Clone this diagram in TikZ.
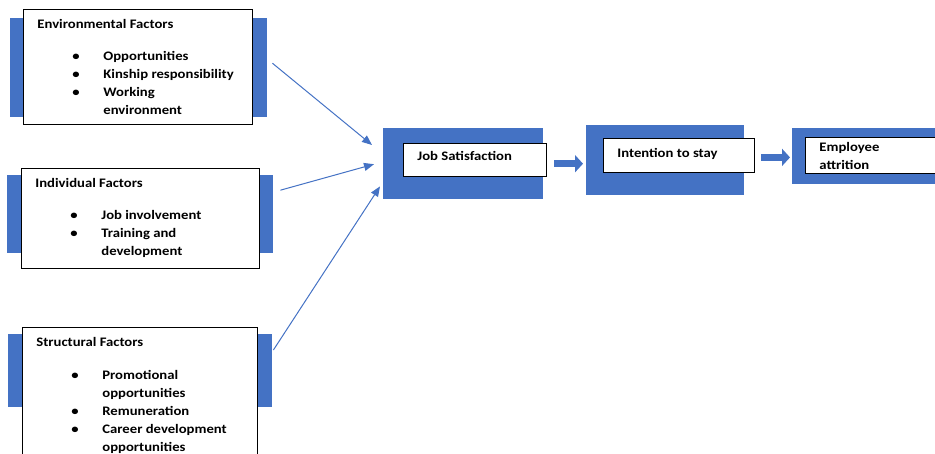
\documentclass[tikz,border=0pt]{standalone}
\usepackage{fontspec}
\setmainfont{Carlito}[FakeStretch=1.13]
\usetikzlibrary{arrows.meta,calc}
\definecolor{azul}{HTML}{4472C4}
% caixa de texto com altura fixa (largura, altura, strut da 1a linha, texto)
\newcommand{\painel}[4]{\parbox[c][#2][t]{#1}{\rule{0pt}{#3}#4}}
% item com marcador e linha de continuação
\newcommand{\marca}[1]{\hspace*{35pt}\makebox[31pt][l]{\textbullet}#1\par}
\newcommand{\segue}[1]{\hspace*{66pt}#1\par}
\tikzset{
  fundo/.style={fill=azul, draw=none, anchor=north west, inner sep=0pt},
  caixa/.style={draw=black, line width=0.8pt, fill=white, anchor=north west,
    inner xsep=14pt, inner ysep=0pt, align=left,
    font=\fontsize{13}{18}\selectfont\bfseries},
  ligacao/.style={azul, line width=1pt, -{Triangle[length=10pt,width=8pt]}},
  seta/.style={azul, line width=7pt, -{Triangle[length=8pt,width=17pt]}},
}
\begin{document}
\begin{tikzpicture}[x=1pt, y=-1pt]
    \clip (0,0) rectangle (935,454);

    % Retângulos azuis de fundo: nome/x/y/largura/altura
    \foreach \nome/\x/\y/\w/\h in {envB/10/18/257/99, indB/7/175/266/78,
        strB/8/334/264/73, jobB/383/128/160/71, intB/586/125/158/70,
        empB/792/128/160/56} {
        \node[fundo, minimum width=\w pt, minimum height=\h pt] (\nome) at (\x,\y) {};
    }

    % Fatores à esquerda
    \node[caixa] (envW) at (23,9) {\painel{201pt}{115pt}{19.5pt}{Environmental Factors\par\vspace{14pt}%
        \marca{Opportunities}\marca{Kinship responsibility}\marca{Working}\segue{environment}}};
    \node[caixa] (indW) at (21,168) {\painel{210pt}{100pt}{19.5pt}{Individual Factors\par\vspace{14pt}%
        \marca{Job involvement}\marca{Training and}\segue{development}}};
    \node[caixa] (strW) at (22,327) {\painel{207pt}{145pt}{19.5pt}{Structural Factors\par\vspace{15pt}%
        \marca{Promotional}\segue{opportunities}\marca{Remuneration}\marca{Career development}\segue{opportunities}}};

    % Etapas à direita
    \node[caixa] (jobW) at (403,143) {\painel{115pt}{33pt}{17.5pt}{Job Satisfaction}};
    \node[caixa] (intW) at (603,138) {\painel{123pt}{34pt}{19pt}{Intention to stay}};
    \node[caixa] (empW) at (805,137) {\painel{117pt}{36pt}{14pt}{Employee\par attrition}};

    % Ligações finas até Job Satisfaction
    \draw[ligacao] ($(envB.east)+(5,-4.5)$) -- ($(jobB.north west)+(-11,17)$);
    \draw[ligacao] ($(indB.east)+(7,-24)$) -- ($(jobB.west)+(-9,0.5)$);
    \draw[ligacao] ($(strB.north east)+(1,16)$) -- ($(jobB.south west)+(-3,-13)$);

    % Setas largas entre as etapas
    \draw[seta] ($(jobB.east)+(11,0)$) -- ($(jobB.east -| intB.west)+(-3,0)$);
    \draw[seta] ($(intW.east)+(6,2)$) -- ($(intW.east -| empB.west)+(-2,2)$);
\end{tikzpicture}
\end{document}
